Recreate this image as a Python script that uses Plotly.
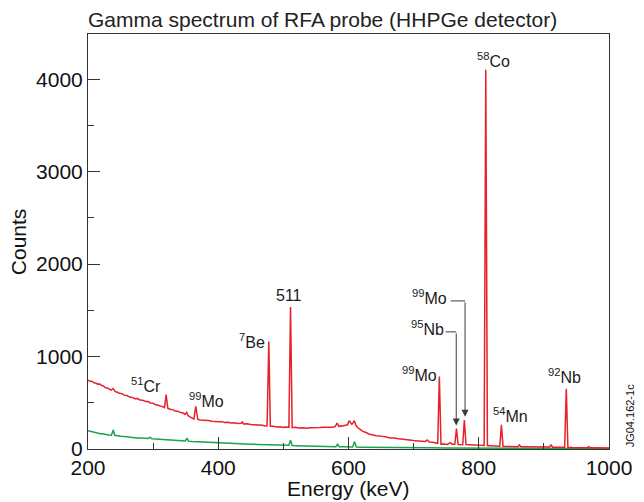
import plotly.graph_objects as go

# ---------------- data ----------------
# red spectrum (energy keV, counts)
red_points = [
    (200, 745), (203, 732), (206, 734), (209, 716), (212, 714), (215, 702), (218, 704),
    (221, 686), (224, 680), (227, 662), (230, 660), (233, 644), (235.5, 638), (238.5, 654),
    (241.5, 624), (245, 614), (248, 602), (252, 598), (256, 580), (260, 578), (264, 562),
    (268, 558), (272, 544), (276, 546), (280, 530), (284, 528), (288, 514), (292, 514),
    (296, 498), (300, 494), (304, 478), (308, 474), (311, 462), (314, 458), (317.5, 448),
    (320, 590), (322.5, 442), (326, 430), (330, 426), (334, 410), (338, 408), (342, 394),
    (346, 390), (349, 374), (351.5, 396), (354, 358), (358, 342), (362.5, 324), (365.5, 460),
    (368.5, 322), (372, 314), (376, 314), (380, 308), (385, 308), (390, 300), (395, 302),
    (400, 296), (405, 296), (410, 288), (415, 290), (420, 282), (425, 283), (430, 276),
    (435, 279), (437, 292), (439, 271), (444, 272), (450, 264), (456, 264), (462, 256),
    (468, 256), (472, 250), (475, 252), (477.6, 1164), (480, 246), (485, 246), (490, 239),
    (495, 241), (500, 234), (505, 237), (508.5, 233), (511, 1537), (513.5, 231), (518, 235),
    (524, 228), (530, 231), (536, 225), (541, 230), (546, 228), (551, 234), (556, 232),
    (561, 236), (566, 234), (571, 240), (576, 235), (579.5, 242), (582.5, 280), (585.5, 244),
    (588, 252), (591, 250), (595, 258), (598.5, 262), (601, 307), (603.5, 272), (605, 268),
    (606.5, 276), (609, 307), (611.5, 255), (614, 232), (618, 212), (622, 190), (627, 178),
    (632, 160), (637, 154), (642, 143), (647, 142), (652, 133), (658, 130), (664, 120),
    (670, 120), (677, 111), (684, 108), (691, 98), (697, 96), (702, 88), (708, 88),
    (713, 81), (718, 82), (721, 97), (724, 76), (729, 72), (735, 63), (737, 62),
    (739.5, 784), (742, 53), (747, 55), (752, 50), (756, 68), (760, 50), (763.3, 53),
    (765.8, 222), (768.3, 49), (773, 49), (775.4, 47), (777.9, 314), (780.4, 47), (785, 45),
    (789, 44), (795, 42), (800, 40), (804, 39), (808.3, 38), (810.8, 4103), (813.3, 36),
    (817, 35), (821, 33), (826, 32), (832.3, 30), (834.8, 262), (837.3, 28), (844, 27),
    (851, 25), (856, 25), (860, 24), (862.5, 44), (865, 23), (872, 23), (880, 22), (888, 22),
    (895, 21), (902, 21), (908.5, 21), (911, 44), (913.5, 20), (919, 20), (925, 19),
    (931.9, 18), (934.4, 651), (936.9, 17), (944, 15), (952, 15), (960, 14), (966.5, 14),
    (969, 26), (971.5, 13), (978, 13), (985, 12), (992, 12), (1000, 12),
]
red_energy = [p[0] for p in red_points]
red_counts = [p[1] for p in red_points]

# green spectrum (energy keV, counts)
green_points = [
    (200, 197), (204, 190), (208, 184), (212, 175), (215, 174), (219, 166), (222, 166),
    (225, 160), (228, 158), (232, 152), (236, 150), (238.6, 205), (241, 148), (245, 142),
    (250, 138), (256, 134), (262, 128), (268, 126), (275, 120), (281, 118), (288, 115),
    (292.5, 113), (295.2, 128), (298, 110), (304, 108), (310, 104), (318, 102), (325, 98),
    (332, 95), (338, 92), (344, 90), (349.5, 86), (351.9, 118), (354.5, 84), (360, 80),
    (365, 78), (372, 76), (380, 73), (390, 70), (400, 68), (410, 64), (420, 60), (435, 56),
    (450, 52), (460, 50), (470, 48), (480, 46), (490, 44), (500, 42), (508.5, 40), (511, 95),
    (513.5, 38), (520, 36), (530, 33), (540, 31), (550, 28), (558, 27), (565, 25),
    (573, 25), (580.5, 24), (583.2, 50), (586, 23), (593, 23), (600, 22), (606.5, 22),
    (609.3, 80), (612, 21), (618, 20), (625, 19), (640, 18), (650, 17), (675, 15), (700, 14),
    (725, 13), (750, 12), (775, 11), (800, 10), (825, 9), (850, 8), (875, 7), (900, 6),
    (925, 6), (950, 5), (975, 5), (1000, 5),
]
green_energy = [p[0] for p in green_points]
green_counts = [p[1] for p in green_points]

x_ticks = [200, 400, 600, 800, 1000]
y_ticks = [0, 1000, 2000, 3000, 4000]

labels = ["<sup>51</sup>Cr", "<sup>99</sup>Mo", "<sup>7</sup>Be", "511", "<sup>99</sup>Mo",
          "<sup>99</sup>Mo", "<sup>95</sup>Nb", "<sup>58</sup>Co", "<sup>54</sup>Mn", "<sup>92</sup>Nb"]
label_x = [288.8, 382.6, 452.2, 509, 708.3, 725, 720.7, 823.3, 849, 931.6]
label_y = [690, 530, 1165, 1660, 815, 1645, 1305, 4205, 365, 790]

FONT = "Liberation Sans, Arial, Helvetica, sans-serif"
RED = "#e8202a"
GREEN = "#17a548"

fig = go.Figure()
fig.add_trace(go.Scatter(x=green_energy, y=green_counts, mode="lines",
                         line=dict(color=GREEN, width=1.5), showlegend=False))
fig.add_trace(go.Scatter(x=red_energy, y=red_counts, mode="lines",
                         line=dict(color=RED, width=1.5), showlegend=False))

for t, x, y in zip(labels, label_x, label_y):
    fig.add_annotation(x=x, y=y, xref="x", yref="y", text=t, showarrow=False,
                       font=dict(family=FONT, size=16, color="#1a1a1a"),
                       xanchor="center", yanchor="middle")

# elbow leader lines with arrows
LC = "#3a3a3a"
fig.add_shape(type="line", xref="x", yref="y", x0=757, x1=779, y0=1602, y1=1602,
              line=dict(color=LC, width=1))
fig.add_annotation(x=779, y=350, ax=779, ay=1602, xref="x", yref="y", axref="x", ayref="y",
                   text="", showarrow=True, arrowhead=2, arrowsize=1.4, arrowwidth=1,
                   arrowcolor=LC)
fig.add_shape(type="line", xref="x", yref="y", x0=749, x1=765.4, y0=1267, y1=1267,
              line=dict(color=LC, width=1))
fig.add_annotation(x=765.4, y=255, ax=765.4, ay=1267, xref="x", yref="y", axref="x", ayref="y",
                   text="", showarrow=True, arrowhead=2, arrowsize=1.4, arrowwidth=1,
                   arrowcolor=LC)

# axis titles and side id
fig.add_annotation(x=0.5, y=-0.095, xref="paper", yref="paper", text="Energy (keV)",
                   showarrow=False, font=dict(family=FONT, size=21, color="#111"),
                   xanchor="center", yanchor="middle")
fig.add_annotation(x=-0.133, y=0.5, xref="paper", yref="paper", text="Counts",
                   showarrow=False, textangle=-90, font=dict(family=FONT, size=21, color="#111"),
                   xanchor="center", yanchor="middle")
fig.add_annotation(x=1.04, y=0.0, xref="paper", yref="paper", text="JG04.162-1c",
                   showarrow=False, textangle=-90, font=dict(family=FONT, size=11, color="#111"),
                   xanchor="center", yanchor="bottom")

fig.update_layout(
    width=644, height=502,
    margin=dict(l=88, r=27, t=34, b=53),
    paper_bgcolor="white", plot_bgcolor="white",
    font=dict(family=FONT, color="#111"),
    title=dict(text="Gamma spectrum of RFA probe (HHPGe detector)",
               font=dict(family=FONT, size=21, color="#222"),
               xref="paper", x=0, xanchor="left",
               yref="container", y=1 - 20 / 502, yanchor="middle"),
    showlegend=False,
)
fig.update_xaxes(range=[200, 1000], tickvals=x_ticks, ticks="inside", ticklen=12,
                 tickcolor="#333", tickwidth=1, showline=True, linecolor="#333", linewidth=1,
                 mirror=True, showgrid=False, zeroline=False,
                 tickfont=dict(family=FONT, size=21, color="#111"),
                 minor=dict(dtick=100, ticks="inside", ticklen=6, tickcolor="#333", showgrid=False))
fig.update_yaxes(range=[0, 4490], tickvals=y_ticks, ticks="inside", ticklen=12,
                 tickcolor="#333", tickwidth=1, showline=True, linecolor="#333", linewidth=1,
                 mirror=True, showgrid=False, zeroline=False,
                 tickfont=dict(family=FONT, size=21, color="#111"),
                 minor=dict(dtick=500, ticks="inside", ticklen=6, tickcolor="#333", showgrid=False))

fig.write_html("out.html", config={"displayModeBar": False},
               post_script="document.body.style.margin='0';")
